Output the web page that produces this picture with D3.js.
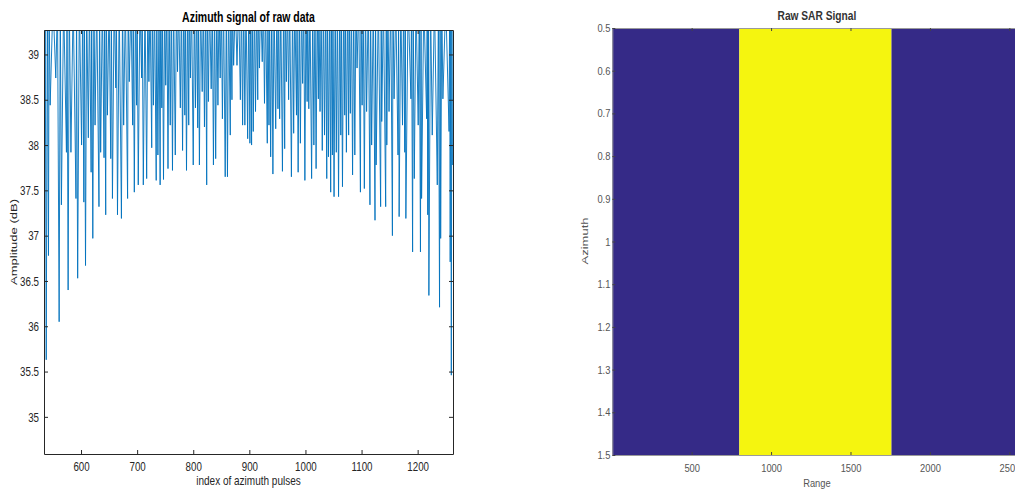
<!DOCTYPE html>
<html>
<head>
<meta charset="utf-8">
<script src="https://cdn.jsdelivr.net/npm/d3@7"></script>
<style>
  body { margin: 0; background: #fff; }
  svg { display: block; font-family: "Liberation Sans", Arial, Helvetica, sans-serif; }
</style>
</head>
<body>
<div class="chart"></div>
<script>
// azimuth signal, [pulse index, amplitude dB]; 39.6 = peaks running off the top of the axes
var signalWest = [
  [535,37.70],[536,39.6],[538,35.63],[540,39.6],[542,36.78],[543,39.6],[545,38.44],[550,39.6],[555,38.74],[558,39.6],
  [561,36.05],[563,39.6],[565,37.34],[569,39.6],[574,37.92],[575,39.6],[577,36.40],[579,39.6],[582,37.92],[586,39.6],
  [591,37.41],[592,39.6],[594,36.53],[597,39.6],[601,38.00],[603,39.6],[605,37.37],[606,39.6],[608,36.67],[610,39.6],
  [613,38.08],[615,39.6],[618,37.70],[619,39.6],[621,36.97],[623,39.6],[625,38.22],[628,39.6],[632,37.32],[633,39.6],
  [635,37.92],[638,39.6],[641,37.86],[642,39.6],[644,37.23],[645,39.6],[647,38.33],[650,39.6],[653,37.85],[654,39.6],
  [656,37.41],[659,39.6],[662,38.63],[663,39.6],[665,37.23],[668,39.6],[672,37.19],[674,39.6],[676,38.22],[679,39.6],
  [683,37.41],[684,39.6],[686,38.70],[689,39.6],[692,38.22],[693,39.6],[695,37.48],[697,39.6],[699,38.44],[700,39.6],
  [702,37.56],[705,39.6],[708,38.74],[709,39.6],[711,37.56],[714,39.6],[717,37.63],[719,39.6],[721,38.70],[723,39.6],
  [726,37.97],[727,39.6],[729,38.44],[731,39.6],[734,37.61],[735,39.6],[737,37.89],[739,39.6],[741,37.56],[742,39.6],
  [744,38.41],[745,39.6],[747,37.62],[749,39.6],[751,38.66],[753,39.6],[755,37.74],[757,39.6],[759,38.22],[761,39.6],
  [763,37.72],[765,39.6],[768,37.89],[770,39.6],[772,38.81],[774,39.6],[777,38.41],[779,39.6],[781,37.94],[783,39.6],
  [785,38.33],[786,39.6],[788,37.72],[790,39.6],[792,38.22],[793,39.6],[795,38.74],[797,39.6]
];
var signalCentre = [
  [800,37.78],[802,39.6],[804,38.41],[806,39.6],[808,38.19],[809,39.6],[811,37.78],[813,39.6],[816,38.59],[818,39.6],
  [820,38.20],[822,39.6],[824,37.56],[825,39.6],[827,38.48],[829,39.6],[832,38.62],[834,39.6],[836,37.78],[838,39.6],
  [840,37.85],[842,39.6],[844,38.44],[846,39.6],[848,38.74],[850,39.6],[852,38.29],[854,39.6],[857,37.65],[859,39.6],
  [861,37.65],[863,39.6],[866,38.11],[867,39.6],[869,38.50],[870,39.6],[872,38.88],[875,39.6],[878,38.88],[881,39.6],
  [884,38.50],[886,39.6],[888,38.22],[890,39.6],[892,38.22],[894,39.6],[897,38.07],[899,39.6],[901,38.02],[902,39.6],
  [904,38.00],[905,39.6],[907,38.15],[909,39.6],[911,38.37],[913,39.6],[915,38.50],[916,39.6],[918,38.85],[920,39.6],
  [923,38.92],[925,39.6],[927,38.46],[929,39.6],[932,38.02],[933,39.6],[935,38.22],[936,39.6],[938,37.87],[940,39.6],
  [942,37.68],[944,39.6],[947,38.18],[949,39.6],[951,38.40],[952,39.6],[954,38.29],[956,39.6],[959,37.71],[961,39.6],
  [963,37.96],[964,39.6],[966,38.70],[968,39.6],[970,38.50],[972,39.6],[975,37.65],[977,39.6],[979,38.13],[981,39.6],
  [984,38.33],[985,39.6],[987,37.70],[989,39.6],[991,38.02],[993,39.6],[995,38.68],[997,39.6],[999,37.61],[1001,39.6],
  [1003,38.48],[1004,39.6],[1006,38.40],[1008,39.6],[1011,37.63],[1013,39.6],[1015,38.00],[1017,39.6],[1019,37.74],[1021,39.6],
  [1023,38.51],[1024,39.6],[1026,38.37],[1028,39.6],[1030,37.94],[1032,39.6],[1034,38.11],[1036,39.6],[1038,37.63],[1039,39.6],
  [1041,37.87],[1043,39.6],[1045,37.48],[1046,39.6],[1048,37.89],[1049,39.6]
];
var signalEast = [
  [1051,37.43],[1053,39.6],[1055,37.92],[1057,39.6],[1059,37.43],[1061,39.6],[1063,38.11],[1064,39.6],[1066,37.54],[1068,39.6],
  [1070,38.33],[1071,39.6],[1073,37.92],[1075,39.6],[1077,38.11],[1078,39.6],[1080,38.35],[1082,39.6],[1084,37.67],[1086,39.6],
  [1088,37.89],[1090,39.6],[1092,38.85],[1095,39.6],[1098,37.48],[1099,39.6],[1101,38.44],[1103,39.6],[1105,37.52],[1107,39.6],
  [1109,38.37],[1112,39.6],[1115,37.34],[1116,39.6],[1118,38.00],[1121,39.6],[1124,37.17],[1125,39.6],[1126,37.78],[1130,39.6],
  [1134,37.32],[1135,39.6],[1136,38.26],[1139,39.6],[1143,37.32],[1144,39.6],[1145,38.00],[1147,39.6],[1149,38.37],[1152,39.6],
  [1155,37.00],[1156,39.6],[1158,38.51],[1161,39.6],[1165,37.89],[1166,39.6],[1167,37.21],[1170,39.6],[1173,38.22],[1175,39.6],
  [1177,37.92],[1178,39.6],[1179,37.19],[1183,39.6],[1188,38.51],[1189,39.6],[1191,36.82],[1192,39.6],[1194,37.63],[1197,39.6],
  [1201,38.22],[1203,39.6],[1205,36.82],[1206,39.6],[1207,37.41],[1211,39.6],[1216,38.29],[1217,39.6],[1218,37.23],[1219,39.6],
  [1220,36.34],[1223,39.6],[1226,38.11],[1230,39.6],[1235,37.56],[1237,39.6],[1239,36.21],[1240,39.6],[1241,36.97],[1243,39.6],
  [1245,38.51],[1250,39.6],[1256,38.15],[1257,39.6],[1258,36.71],[1259,39.6],[1260,35.46],[1261,39.6],[1262,37.78]
];
var pulseTicks = [600, 700, 800, 900, 1000, 1100, 1200];
var dbTicks = [35, 35.5, 36, 36.5, 37, 37.5, 38, 38.5, 39];

// raw SAR image: one azimuth row, range bins split into bands
var rangeEdges = [0.5, 800, 1758, 2576.5];
var bandLevel = [0, 1, 0];
var azimuthRows = [1];
var rangeTicks = [500, 1000, 1500, 2000, 2500];
var azimuthTicks = [0.5, 0.6, 0.7, 0.8, 0.9, 1, 1.1, 1.2, 1.3, 1.4, 1.5];

var W = 1015, H = 489;
var svg = d3.select(".chart").append("svg")
    .attr("width", W)
    .attr("height", H);

// squeeze text horizontally like the reference
function squash(sel, s, origin) {
  sel.style("transform-box", "fill-box")
     .style("transform-origin", origin || "center")
     .style("transform", "scaleX(" + s + ")");
}
function fmt(d) { return String(+d.toFixed(1)); }

// ---------- left: azimuth signal ----------
var L = {left: 44, right: 453, top: 30, bottom: 454};
var ink = "#262626";

var x = d3.scaleLinear().domain([534, 1263]).range([L.left, L.right]);
var y = d3.scaleLinear().domain([34.59, 39.27]).range([L.bottom, L.top]);

svg.append("clipPath").attr("id", "clipL")
  .append("rect")
    .attr("x", L.left).attr("y", L.top)
    .attr("width", L.right - L.left).attr("height", L.bottom - L.top);

var signal = signalWest.concat(signalCentre, signalEast);
var line = d3.line()
    .x(function(d) { return x(d[0]); })
    .y(function(d) { return y(d[1]); });

svg.append("path")
    .datum(signal)
    .attr("clip-path", "url(#clipL)")
    .attr("fill", "none")
    .attr("stroke", "#0072BD")
    .attr("stroke-width", 0.9)
    .attr("d", line);

var gx = svg.append("g")
    .attr("transform", "translate(0," + L.bottom + ")")
    .call(d3.axisBottom(x).tickValues(pulseTicks).tickSizeInner(-4).tickSizeOuter(0).tickPadding(8).tickFormat(fmt));
var gxt = svg.append("g")
    .attr("transform", "translate(0," + L.top + ")")
    .call(d3.axisTop(x).tickValues(pulseTicks).tickSizeInner(-4).tickSizeOuter(0).tickFormat(""));
var gy = svg.append("g")
    .attr("transform", "translate(" + L.left + ",0)")
    .call(d3.axisLeft(y).tickValues(dbTicks).tickSizeInner(-4).tickSizeOuter(0).tickPadding(5).tickFormat(fmt));
var gyr = svg.append("g")
    .attr("transform", "translate(" + L.right + ",0)")
    .call(d3.axisRight(y).tickValues(dbTicks).tickSizeInner(-4).tickSizeOuter(0).tickFormat(""));

[gx, gxt, gy, gyr].forEach(function(g) {
  g.selectAll("path, line").attr("stroke", ink);
  g.selectAll("text").attr("fill", ink).style("font-size", "13px").style("font-family", null);
});
squash(gx.selectAll("text"), 0.75);
squash(gy.selectAll("text"), 0.75, "right center");

svg.append("text")
    .attr("x", (L.left + L.right) / 2)
    .attr("y", 22)
    .attr("text-anchor", "middle")
    .attr("fill", "#000")
    .style("font-size", "14px")
    .style("font-weight", "bold")
    .text("Azimuth signal of raw data")
    .call(squash, 0.75);

svg.append("text")
    .attr("x", (L.left + L.right) / 2)
    .attr("y", 485)
    .attr("text-anchor", "middle")
    .attr("fill", ink)
    .style("font-size", "13px")
    .text("index of azimuth pulses")
    .call(squash, 0.77);

svg.append("text")
    .attr("transform", "translate(17," + (L.top + L.bottom) / 2 + ") rotate(-90) scale(1,0.75)")
    .attr("text-anchor", "middle")
    .attr("fill", ink)
    .style("font-size", "13px")
    .text("Amplitude (dB)");

// ---------- right: raw SAR signal image ----------
var R = {left: 612.3, right: 1021.5, top: 28, bottom: 455};
var grey = "#555";

var xr = d3.scaleLinear().domain([rangeEdges[0], rangeEdges[rangeEdges.length - 1]]).range([R.left, R.right]);
var yr = d3.scaleLinear().domain([0.5, 1.5]).range([R.top, R.bottom]);
var parula = d3.scaleLinear().domain([0, 1]).range(["#352a87", "#f5f50f"]);

var cells = [];
azimuthRows.forEach(function(row) {
  bandLevel.forEach(function(v, i) {
    cells.push({row: row, x0: rangeEdges[i], x1: rangeEdges[i + 1], v: v});
  });
});

svg.append("g").selectAll("rect")
  .data(cells)
  .join("rect")
    .attr("x", function(d) { return xr(d.x0); })
    .attr("width", function(d) { return xr(d.x1) - xr(d.x0); })
    .attr("y", function(d) { return yr(d.row - 0.5); })
    .attr("height", function(d) { return yr(d.row + 0.5) - yr(d.row - 0.5); })
    .attr("fill", function(d) { return parula(d.v); });

var rx = svg.append("g")
    .attr("transform", "translate(0," + R.bottom + ")")
    .call(d3.axisBottom(xr).tickValues(rangeTicks).tickSizeInner(-3).tickSizeOuter(0).tickPadding(9).tickFormat(fmt));
var rxt = svg.append("g")
    .attr("transform", "translate(0," + R.top + ")")
    .call(d3.axisTop(xr).tickValues(rangeTicks).tickSizeInner(-3).tickSizeOuter(0).tickFormat(""));
var ry = svg.append("g")
    .attr("transform", "translate(" + R.left + ",0)")
    .call(d3.axisLeft(yr).tickValues(azimuthTicks).tickSizeInner(-3).tickSizeOuter(0).tickPadding(2).tickFormat(fmt));

[rx, rxt, ry].forEach(function(g) {
  g.select(".domain").attr("stroke", "#9a9a9a");
  g.selectAll(".tick line").attr("stroke", "#444");
  g.selectAll("text").attr("fill", grey).style("font-size", "11px").style("font-family", null);
});
squash(rx.selectAll("text"), 0.85);
squash(ry.selectAll("text"), 0.85, "right center");

svg.append("text")
    .attr("x", (R.left + R.right) / 2)
    .attr("y", 20)
    .attr("text-anchor", "middle")
    .attr("fill", "#333")
    .style("font-size", "12px")
    .style("font-weight", "bold")
    .text("Raw SAR Signal")
    .call(squash, 0.85);

svg.append("text")
    .attr("x", (R.left + R.right) / 2)
    .attr("y", 487)
    .attr("text-anchor", "middle")
    .attr("fill", grey)
    .style("font-size", "11px")
    .text("Range")
    .call(squash, 0.85);

svg.append("text")
    .attr("transform", "translate(588,241) rotate(-90) scale(1,0.65)")
    .attr("text-anchor", "middle")
    .attr("fill", grey)
    .style("font-size", "13px")
    .text("Azimuth");
</script>
</body>
</html>
